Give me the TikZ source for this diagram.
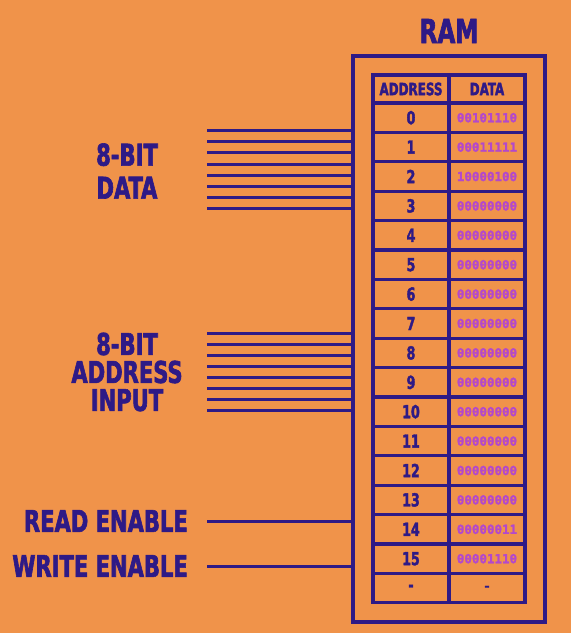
\documentclass[tikz,border=0pt]{standalone}
\usepackage{fontspec}
\usepackage{xcolor}
\usepackage{tikz}
\usetikzlibrary{arrows, arrows.meta}
\newfontfamily\ramfont[FakeStretch=0.78, BoldFeatures={FakeBold=2}]{DejaVu Sans Condensed}
\newfontfamily\bitfont[BoldFeatures={FakeBold=1.5}]{DejaVu Sans Mono}
\definecolor{ramorange}{HTML}{F0934A}
\definecolor{ramink}{HTML}{2E1A86}
\definecolor{rambits}{HTML}{B348CC}
\tikzset{
  wire/.style={draw=ramink, line width=3pt},
  cell/.style={draw=ramink, line width=3.2pt, minimum width=76pt, minimum height=29.4pt, inner sep=0pt, text=ramink, font=\ramfont\bfseries\fontsize{18}{18}\selectfont},
  hdrcell/.style={cell, minimum height=28pt, font=\ramfont\bfseries\fontsize{17}{17}\selectfont},
  bitcell/.style={cell, text=rambits, font=\bitfont\bfseries\fontsize{12.5}{12.5}\selectfont},
  biglabel/.style={text=ramink, inner sep=0pt, font=\ramfont\bfseries\fontsize{30}{31}\selectfont}
}
\begin{document}
\begin{tikzpicture}[x=1pt,y=-1pt]
				\fill[ramorange] (0,0) rectangle (571,633);
				\useasboundingbox (0,0) rectangle (571,633);
				% ram box
				\node[draw=ramink, line width=4pt, minimum width=192pt, minimum height=566pt, inner sep=0pt](ram) at (449,339){};
				\node[biglabel, font=\ramfont\bfseries\fontsize{33}{33}\selectfont](title) at (449,31){RAM};
				% table
				\node[hdrcell](hdraddr) at (411,89){ADDRESS};
				\node[hdrcell](hdrdata) at (487,89){DATA};
				\node[cell](addr0) at (411,117.7){0};
				\node[cell](addr1) at (411,147.1){1};
				\node[cell](addr2) at (411,176.5){2};
				\node[cell](addr3) at (411,205.9){3};
				\node[cell](addr4) at (411,235.3){4};
				\node[cell](addr5) at (411,264.7){5};
				\node[cell](addr6) at (411,294.1){6};
				\node[cell](addr7) at (411,323.5){7};
				\node[cell](addr8) at (411,352.9){8};
				\node[cell](addr9) at (411,382.3){9};
				\node[cell](addr10) at (411,411.7){10};
				\node[cell](addr11) at (411,441.1){11};
				\node[cell](addr12) at (411,470.5){12};
				\node[cell](addr13) at (411,499.9){13};
				\node[cell](addr14) at (411,529.3){14};
				\node[cell](addr15) at (411,558.7){15};
				\node[cell](addr16) at (411,588.1){-};
				\node[bitcell](data0) at (487,117.7){00101110};
				\node[bitcell](data1) at (487,147.1){00011111};
				\node[bitcell](data2) at (487,176.5){10000100};
				\node[bitcell](data3) at (487,205.9){00000000};
				\node[bitcell](data4) at (487,235.3){00000000};
				\node[bitcell](data5) at (487,264.7){00000000};
				\node[bitcell](data6) at (487,294.1){00000000};
				\node[bitcell](data7) at (487,323.5){00000000};
				\node[bitcell](data8) at (487,352.9){00000000};
				\node[bitcell](data9) at (487,382.3){00000000};
				\node[bitcell](data10) at (487,411.7){00000000};
				\node[bitcell](data11) at (487,441.1){00000000};
				\node[bitcell](data12) at (487,470.5){00000000};
				\node[bitcell](data13) at (487,499.9){00000000};
				\node[bitcell](data14) at (487,529.3){00000011};
				\node[bitcell](data15) at (487,558.7){00001110};
				\node[bitcell, text=ramink](data16) at (487,588.1){-};
				% labels
				\node[biglabel, align=center, font=\ramfont\bfseries\fontsize{30}{33}\selectfont](datalabel) at (127,171){8-BIT\\DATA};
				\node[biglabel, align=center, font=\ramfont\bfseries\fontsize{30}{28}\selectfont](addrlabel) at (127,372){8-BIT\\ADDRESS\\INPUT};
				\node[biglabel, anchor=east](readlabel) at (188,521){READ ENABLE};
				\node[biglabel, anchor=east](writelabel) at (188,566){WRITE ENABLE};
				% wires
				\coordinate(dwire0) at (207,130.7);
				\coordinate(dwire1) at (207,141.8);
				\coordinate(dwire2) at (207,152.9);
				\coordinate(dwire3) at (207,164.0);
				\coordinate(dwire4) at (207,175.1);
				\coordinate(dwire5) at (207,186.2);
				\coordinate(dwire6) at (207,197.3);
				\coordinate(dwire7) at (207,208.4);
				\coordinate(awire0) at (207,333.0);
				\coordinate(awire1) at (207,344.1);
				\coordinate(awire2) at (207,355.2);
				\coordinate(awire3) at (207,366.3);
				\coordinate(awire4) at (207,377.4);
				\coordinate(awire5) at (207,388.5);
				\coordinate(awire6) at (207,399.6);
				\coordinate(awire7) at (207,410.7);
				\coordinate(rwire) at (207,521);
				\coordinate(wwire) at (207,566);
				\draw[wire] (dwire0) -- (dwire0 -| ram.west);
				\draw[wire] (dwire1) -- (dwire1 -| ram.west);
				\draw[wire] (dwire2) -- (dwire2 -| ram.west);
				\draw[wire] (dwire3) -- (dwire3 -| ram.west);
				\draw[wire] (dwire4) -- (dwire4 -| ram.west);
				\draw[wire] (dwire5) -- (dwire5 -| ram.west);
				\draw[wire] (dwire6) -- (dwire6 -| ram.west);
				\draw[wire] (dwire7) -- (dwire7 -| ram.west);
				\draw[wire] (awire0) -- (awire0 -| ram.west);
				\draw[wire] (awire1) -- (awire1 -| ram.west);
				\draw[wire] (awire2) -- (awire2 -| ram.west);
				\draw[wire] (awire3) -- (awire3 -| ram.west);
				\draw[wire] (awire4) -- (awire4 -| ram.west);
				\draw[wire] (awire5) -- (awire5 -| ram.west);
				\draw[wire] (awire6) -- (awire6 -| ram.west);
				\draw[wire] (awire7) -- (awire7 -| ram.west);
				\draw[wire] (rwire) -- (rwire -| ram.west);
				\draw[wire] (wwire) -- (wwire -| ram.west);
			\end{tikzpicture}
\end{document}
